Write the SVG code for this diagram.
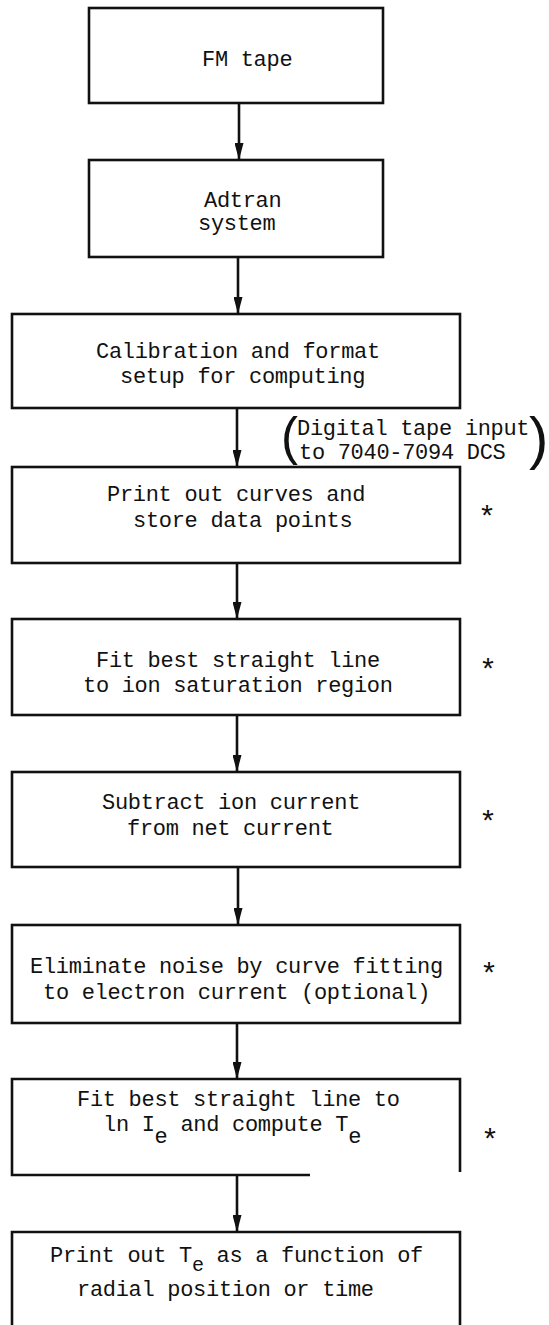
<svg xmlns="http://www.w3.org/2000/svg" width="549" height="1325" viewBox="0 0 549 1325">
<style>
.box{fill:none;stroke:#111;stroke-width:2.6}
.t{font-family:"Liberation Mono","DejaVu Sans Mono",monospace;font-size:22px;letter-spacing:-0.3px;fill:#111}
.ast{font-family:"Liberation Mono","DejaVu Sans Mono",monospace;font-size:30px;fill:#111}
.par{font-family:"Liberation Sans",sans-serif;fill:#111}
.conn line{stroke:#111;stroke-width:2.6;marker-end:url(#ah)}
</style>
<defs>
<marker id="ah" markerUnits="userSpaceOnUse" markerWidth="18" markerHeight="9" refX="17" refY="4.5" orient="auto">
<path d="M0,0 L17,4.5 L0,9 z" fill="#111"/>
</marker>
</defs>
<rect width="549" height="1325" fill="#fff"/>
<g id="n1">
<rect class="box" x="89" y="8" width="294" height="95"/>
<text class="t" x="202" y="66">FM tape</text>
</g>
<g id="n2">
<rect class="box" x="89" y="160" width="294" height="97"/>
<text class="t" x="204" y="207">Adtran</text>
<text class="t" x="198" y="230">system</text>
</g>
<g id="n3">
<rect class="box" x="12" y="314" width="448" height="94"/>
<text class="t" x="96" y="358">Calibration and format</text>
<text class="t" x="120" y="383">setup for computing</text>
</g>
<g id="label">
<text class="par" x="281" y="454" font-size="51">(</text>
<text class="t" x="297" y="435">Digital tape input</text>
<text class="t" x="299" y="459">to 7040-7094 DCS</text>
<text class="par" x="529" y="458" font-size="58">)</text>
</g>
<g id="n4">
<rect class="box" x="12" y="467" width="448" height="96"/>
<text class="t" x="107" y="501">Print out curves and</text>
<text class="t" x="133" y="527">store data points</text>
<text class="ast" x="478" y="527">*</text>
</g>
<g id="n5">
<rect class="box" x="12" y="619" width="448" height="96"/>
<text class="t" x="96" y="667">Fit best straight line</text>
<text class="t" x="83" y="692">to ion saturation region</text>
<text class="ast" x="479" y="680">*</text>
</g>
<g id="n6">
<rect class="box" x="12" y="772" width="448" height="95"/>
<text class="t" x="102" y="809">Subtract ion current</text>
<text class="t" x="127" y="835">from net current</text>
<text class="ast" x="479" y="832">*</text>
</g>
<g id="n7">
<rect class="box" x="12" y="925" width="448" height="98"/>
<text class="t" x="30" y="973">Eliminate noise by curve fitting</text>
<text class="t" x="43" y="999">to electron current (optional)</text>
<text class="ast" x="480" y="984">*</text>
</g>
<g id="n8">
<path class="box" d="M310,1175 H12 V1079 H460 V1172"/>
<text class="t" x="77" y="1106">Fit best straight line to</text>
<text class="t" x="103" y="1131">ln I<tspan dy="12">e</tspan><tspan dy="-12"> and compute T</tspan><tspan dy="12">e</tspan></text>
<text class="ast" x="481" y="1150">*</text>
</g>
<g id="n9">
<path class="box" d="M12,1325 V1232 H460 V1325"/>
<text class="t" x="50" y="1262">Print out T<tspan dy="9" font-size="20">e</tspan><tspan dy="-9"> as a function of</tspan></text>
<text class="t" x="77" y="1296">radial position or time</text>
</g>
<g id="connectors" class="conn">
<line x1="239" y1="103" x2="239" y2="160"/>
<line x1="238" y1="257" x2="238" y2="314"/>
<line x1="237" y1="408" x2="237" y2="467"/>
<line x1="237" y1="563" x2="237" y2="619"/>
<line x1="237" y1="715" x2="237" y2="772"/>
<line x1="238" y1="867" x2="238" y2="925"/>
<line x1="237" y1="1023" x2="237" y2="1079"/>
<line x1="237" y1="1175" x2="237" y2="1232"/>
</g>
</svg>
